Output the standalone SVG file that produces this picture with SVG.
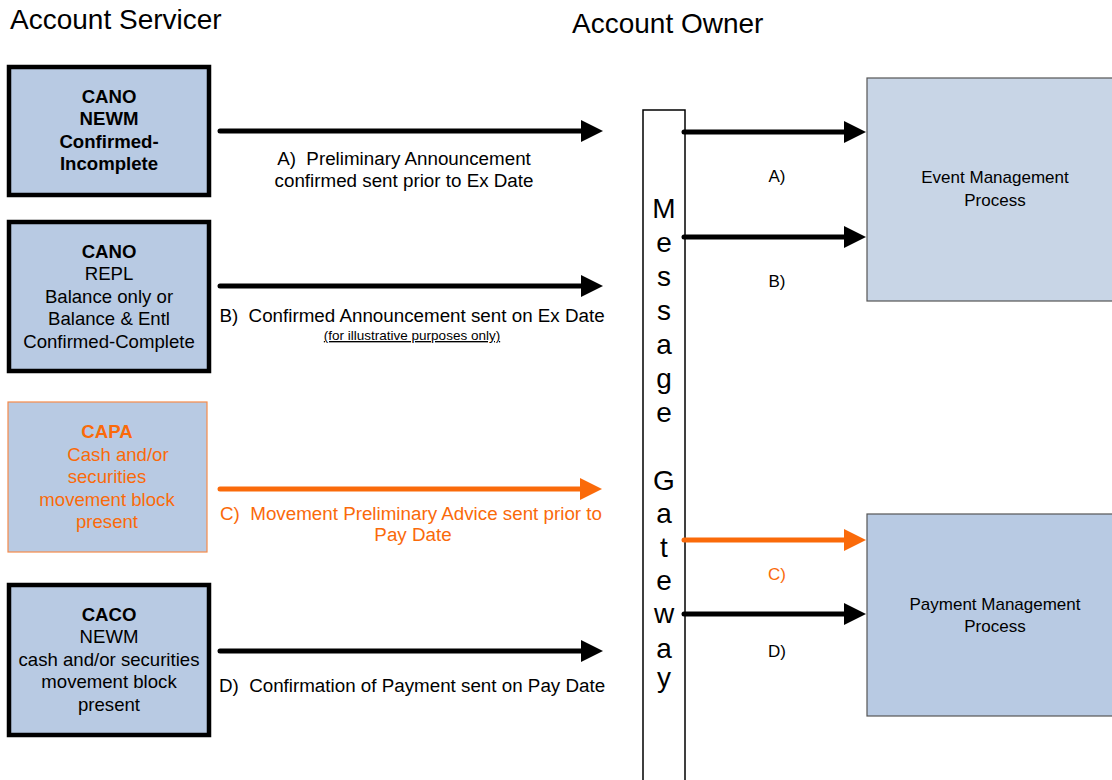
<svg xmlns="http://www.w3.org/2000/svg" width="1112" height="780" viewBox="0 0 1112 780">
<defs>
<style>
text{font-family:"Liberation Sans",Arial,sans-serif;fill:#000}
.t{font-size:28px}
.bx{font-size:18.6px;text-anchor:middle}
.b{font-weight:bold}
.or{fill:#fa6a0a}
.lbl{font-size:18.8px;text-anchor:middle}
.sm{font-size:13.5px;text-anchor:middle;text-decoration:underline}
.gw{font-size:28px;text-anchor:middle}
.rl{font-size:17px;text-anchor:middle}
.pl{font-size:17px;text-anchor:middle}
.thick{fill:#b8cae3;stroke:#000;stroke-width:4.5}
.arr{stroke:#000;stroke-width:5;stroke-linecap:round;fill:none}
.arrO{stroke:#fa6a0a;stroke-width:5;stroke-linecap:round;fill:none}
</style>
<marker id="ah" markerUnits="userSpaceOnUse" markerWidth="22" markerHeight="22" viewBox="0 0 22 22" refX="2" refY="11" orient="auto"><path d="M0,0 L22,11 L0,22 z" fill="#000"/></marker>
<marker id="ahO" markerUnits="userSpaceOnUse" markerWidth="22" markerHeight="22" viewBox="0 0 22 22" refX="2" refY="11" orient="auto"><path d="M0,0 L22,11 L0,22 z" fill="#fa6a0a"/></marker>
</defs>
<rect width="1112" height="780" fill="#fff"/>
<text class="t" x="10" y="29">Account Servicer</text>
<text class="t" x="572" y="33">Account Owner</text>

<g id="box-cano-newm">
<rect class="thick" x="9" y="67" width="200" height="128"/>
<text class="bx b" x="109" y="103">CANO</text>
<text class="bx b" x="109" y="125">NEWM</text>
<text class="bx b" x="109" y="148">Confirmed-</text>
<text class="bx b" x="109" y="170">Incomplete</text>
</g>
<g id="box-cano-repl">
<rect class="thick" x="9" y="222" width="200" height="149"/>
<text class="bx b" x="109" y="258">CANO</text>
<text class="bx" x="109" y="280">REPL</text>
<text class="bx" x="109" y="303">Balance only or</text>
<text class="bx" x="109" y="325">Balance &amp; Entl</text>
<text class="bx" x="109" y="348">Confirmed-Complete</text>
</g>
<g id="box-capa">
<rect x="8" y="402" width="199" height="150" fill="#b8cae3" stroke="#f58a4a" stroke-width="1.2"/>
<text class="bx b or" x="107" y="438">CAPA</text>
<text class="bx or" x="118" y="461">Cash and/or</text>
<text class="bx or" x="107" y="483">securities</text>
<text class="bx or" x="107" y="506">movement block</text>
<text class="bx or" x="107" y="528">present</text>
</g>
<g id="box-caco">
<rect class="thick" x="9" y="585" width="200" height="150"/>
<text class="bx b" x="109" y="621">CACO</text>
<text class="bx" x="109" y="643">NEWM</text>
<text class="bx" x="109" y="666">cash and/or securities</text>
<text class="bx" x="109" y="688">movement block</text>
<text class="bx" x="109" y="711">present</text>
</g>

<g id="gateway">
<rect x="643" y="110" width="42" height="690" fill="#fff" stroke="#000" stroke-width="1.5"/>
<text class="gw">
<tspan x="664" y="218">M</tspan><tspan x="664" y="252">e</tspan><tspan x="664" y="286">s</tspan><tspan x="664" y="320">s</tspan><tspan x="664" y="354">a</tspan><tspan x="664" y="388">g</tspan><tspan x="664" y="422">e</tspan><tspan x="664" y="490">G</tspan><tspan x="664" y="523">a</tspan><tspan x="664" y="557">t</tspan><tspan x="664" y="590">e</tspan><tspan x="664" y="623">w</tspan><tspan x="664" y="658">a</tspan><tspan x="664" y="687">y</tspan>
</text>
</g>

<g id="event-mgmt">
<rect x="867" y="78" width="260" height="223" fill="#c8d5e6" stroke="#555" stroke-width="1.2"/>
<text class="pl" x="995" y="183">Event Management</text>
<text class="pl" x="995" y="206">Process</text>
</g>
<g id="payment-mgmt">
<rect x="867" y="514" width="260" height="202" fill="#b8cae3" stroke="#555" stroke-width="1.2"/>
<text class="pl" x="995" y="610">Payment Management</text>
<text class="pl" x="995" y="632">Process</text>
</g>

<g id="connectors">
<line class="arr" x1="220" y1="131" x2="583" y2="131" marker-end="url(#ah)"/>
<line class="arr" x1="220" y1="286" x2="583" y2="286" marker-end="url(#ah)"/>
<line class="arrO" x1="220" y1="489" x2="582" y2="489" marker-end="url(#ahO)"/>
<line class="arr" x1="220" y1="651" x2="583" y2="651" marker-end="url(#ah)"/>
<line class="arr" x1="684" y1="132" x2="846" y2="132" marker-end="url(#ah)"/>
<line class="arr" x1="684" y1="237" x2="846" y2="237" marker-end="url(#ah)"/>
<line class="arrO" x1="684" y1="540" x2="846" y2="540" marker-end="url(#ahO)"/>
<line class="arr" x1="684" y1="614" x2="846" y2="614" marker-end="url(#ah)"/>
<text class="lbl" x="404" y="165" xml:space="preserve">A)  Preliminary Announcement</text>
<text class="lbl" x="404" y="187">confirmed sent prior to Ex Date</text>
<text class="lbl" x="412" y="322" xml:space="preserve">B)  Confirmed Announcement sent on Ex Date</text>
<text class="sm" x="412" y="340">(for illustrative purposes only)</text>
<text class="lbl or" x="411" y="520" xml:space="preserve">C)  Movement Preliminary Advice sent prior to</text>
<text class="lbl or" x="413" y="541">Pay Date</text>
<text class="lbl" x="412" y="692" xml:space="preserve">D)  Confirmation of Payment sent on Pay Date</text>
<text class="rl" x="777" y="182">A)</text>
<text class="rl" x="777" y="287">B)</text>
<text class="rl or" x="777" y="580">C)</text>
<text class="rl" x="777" y="657">D)</text>
</g>
</svg>
